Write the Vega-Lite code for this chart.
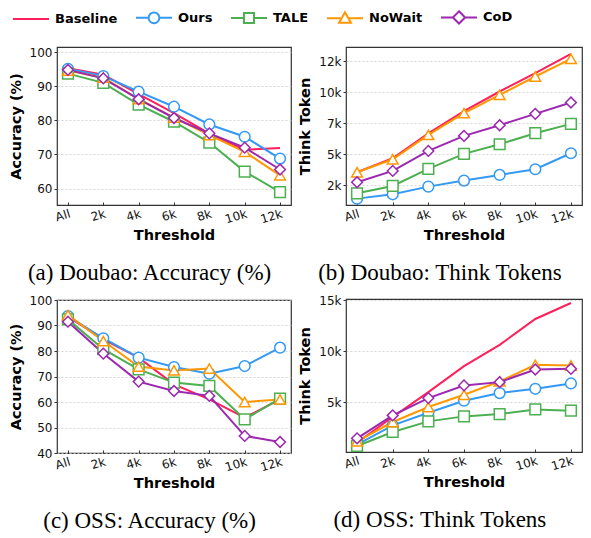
{
  "$schema": "https://vega.github.io/schema/vega-lite/v6.json",
  "padding": {"left": 7, "top": -2, "right": 2, "bottom": 2},
  "datasets": {
    "all": [
      {"p":"a","s":"Baseline","t":"All","v":95.3},{"p":"a","s":"Baseline","t":"2k","v":93.4},{"p":"a","s":"Baseline","t":"4k","v":87.7},{"p":"a","s":"Baseline","t":"6k","v":82.1},{"p":"a","s":"Baseline","t":"8k","v":76.1},{"p":"a","s":"Baseline","t":"10k","v":71.4},{"p":"a","s":"Baseline","t":"12k","v":71.9},
      {"p":"a","s":"Ours","t":"All","v":95.1},{"p":"a","s":"Ours","t":"2k","v":93.0},{"p":"a","s":"Ours","t":"4k","v":88.4},{"p":"a","s":"Ours","t":"6k","v":84.0},{"p":"a","s":"Ours","t":"8k","v":78.8},{"p":"a","s":"Ours","t":"10k","v":75.2},{"p":"a","s":"Ours","t":"12k","v":68.8},
      {"p":"a","s":"TALE","t":"All","v":93.7},{"p":"a","s":"TALE","t":"2k","v":91.0},{"p":"a","s":"TALE","t":"4k","v":84.6},{"p":"a","s":"TALE","t":"6k","v":79.6},{"p":"a","s":"TALE","t":"8k","v":73.5},{"p":"a","s":"TALE","t":"10k","v":65.0},{"p":"a","s":"TALE","t":"12k","v":59.0},
      {"p":"a","s":"NoWait","t":"All","v":94.6},{"p":"a","s":"NoWait","t":"2k","v":92.5},{"p":"a","s":"NoWait","t":"4k","v":86.2},{"p":"a","s":"NoWait","t":"6k","v":80.8},{"p":"a","s":"NoWait","t":"8k","v":75.7},{"p":"a","s":"NoWait","t":"10k","v":70.8},{"p":"a","s":"NoWait","t":"12k","v":63.9},
      {"p":"a","s":"CoD","t":"All","v":94.8},{"p":"a","s":"CoD","t":"2k","v":92.3},{"p":"a","s":"CoD","t":"4k","v":86.2},{"p":"a","s":"CoD","t":"6k","v":80.7},{"p":"a","s":"CoD","t":"8k","v":76.2},{"p":"a","s":"CoD","t":"10k","v":72.0},{"p":"a","s":"CoD","t":"12k","v":65.6},

      {"p":"b","s":"Baseline","t":"All","v":3546},{"p":"b","s":"Baseline","t":"2k","v":4679},{"p":"b","s":"Baseline","t":"4k","v":6701},{"p":"b","s":"Baseline","t":"6k","v":8481},{"p":"b","s":"Baseline","t":"8k","v":10073},{"p":"b","s":"Baseline","t":"10k","v":11556},{"p":"b","s":"Baseline","t":"12k","v":13120},
      {"p":"b","s":"Ours","t":"All","v":1415},{"p":"b","s":"Ours","t":"2k","v":1766},{"p":"b","s":"Ours","t":"4k","v":2386},{"p":"b","s":"Ours","t":"6k","v":2872},{"p":"b","s":"Ours","t":"8k","v":3330},{"p":"b","s":"Ours","t":"10k","v":3789},{"p":"b","s":"Ours","t":"12k","v":5083},
      {"p":"b","s":"TALE","t":"All","v":1847},{"p":"b","s":"TALE","t":"2k","v":2440},{"p":"b","s":"TALE","t":"4k","v":3816},{"p":"b","s":"TALE","t":"6k","v":5030},{"p":"b","s":"TALE","t":"8k","v":5811},{"p":"b","s":"TALE","t":"10k","v":6702},{"p":"b","s":"TALE","t":"12k","v":7457},
      {"p":"b","s":"NoWait","t":"All","v":3546},{"p":"b","s":"NoWait","t":"2k","v":4598},{"p":"b","s":"NoWait","t":"4k","v":6566},{"p":"b","s":"NoWait","t":"6k","v":8320},{"p":"b","s":"NoWait","t":"8k","v":9803},{"p":"b","s":"NoWait","t":"10k","v":11286},{"p":"b","s":"NoWait","t":"12k","v":12716},
      {"p":"b","s":"CoD","t":"All","v":2737},{"p":"b","s":"CoD","t":"2k","v":3654},{"p":"b","s":"CoD","t":"4k","v":5272},{"p":"b","s":"CoD","t":"6k","v":6486},{"p":"b","s":"CoD","t":"8k","v":7349},{"p":"b","s":"CoD","t":"10k","v":8266},{"p":"b","s":"CoD","t":"12k","v":9183},

      {"p":"c","s":"Baseline","t":"All","v":93.5},{"p":"c","s":"Baseline","t":"2k","v":84.6},{"p":"c","s":"Baseline","t":"4k","v":77.4},{"p":"c","s":"Baseline","t":"6k","v":66.9},{"p":"c","s":"Baseline","t":"8k","v":61.0},{"p":"c","s":"Baseline","t":"10k","v":53.9},{"p":"c","s":"Baseline","t":"12k","v":61.0},
      {"p":"c","s":"Ours","t":"All","v":93.7},{"p":"c","s":"Ours","t":"2k","v":85.0},{"p":"c","s":"Ours","t":"4k","v":77.4},{"p":"c","s":"Ours","t":"6k","v":73.7},{"p":"c","s":"Ours","t":"8k","v":71.1},{"p":"c","s":"Ours","t":"10k","v":74.1},{"p":"c","s":"Ours","t":"12k","v":81.3},
      {"p":"c","s":"TALE","t":"All","v":92.4},{"p":"c","s":"TALE","t":"2k","v":80.7},{"p":"c","s":"TALE","t":"4k","v":72.8},{"p":"c","s":"TALE","t":"6k","v":67.6},{"p":"c","s":"TALE","t":"8k","v":66.3},{"p":"c","s":"TALE","t":"10k","v":53.2},{"p":"c","s":"TALE","t":"12k","v":61.3},
      {"p":"c","s":"NoWait","t":"All","v":94.1},{"p":"c","s":"NoWait","t":"2k","v":83.9},{"p":"c","s":"NoWait","t":"4k","v":73.9},{"p":"c","s":"NoWait","t":"6k","v":72.4},{"p":"c","s":"NoWait","t":"8k","v":73.1},{"p":"c","s":"NoWait","t":"10k","v":60.0},{"p":"c","s":"NoWait","t":"12k","v":61.0},
      {"p":"c","s":"CoD","t":"All","v":91.5},{"p":"c","s":"CoD","t":"2k","v":79.0},{"p":"c","s":"CoD","t":"4k","v":68.0},{"p":"c","s":"CoD","t":"6k","v":64.3},{"p":"c","s":"CoD","t":"8k","v":62.4},{"p":"c","s":"CoD","t":"10k","v":46.7},{"p":"c","s":"CoD","t":"12k","v":44.3},

      {"p":"d","s":"Baseline","t":"All","v":1027},{"p":"d","s":"Baseline","t":"2k","v":3535},{"p":"d","s":"Baseline","t":"4k","v":5978},{"p":"d","s":"Baseline","t":"6k","v":8519},{"p":"d","s":"Baseline","t":"8k","v":10603},{"p":"d","s":"Baseline","t":"10k","v":13143},{"p":"d","s":"Baseline","t":"12k","v":14707},
      {"p":"d","s":"Ours","t":"All","v":832},{"p":"d","s":"Ours","t":"2k","v":2721},{"p":"d","s":"Ours","t":"4k","v":3959},{"p":"d","s":"Ours","t":"6k","v":5131},{"p":"d","s":"Ours","t":"8k","v":5880},{"p":"d","s":"Ours","t":"10k","v":6304},{"p":"d","s":"Ours","t":"12k","v":6825},
      {"p":"d","s":"TALE","t":"All","v":701},{"p":"d","s":"TALE","t":"2k","v":2069},{"p":"d","s":"TALE","t":"4k","v":3112},{"p":"d","s":"TALE","t":"6k","v":3600},{"p":"d","s":"TALE","t":"8k","v":3828},{"p":"d","s":"TALE","t":"10k","v":4284},{"p":"d","s":"TALE","t":"12k","v":4154},
      {"p":"d","s":"NoWait","t":"All","v":1158},{"p":"d","s":"NoWait","t":"2k","v":3047},{"p":"d","s":"NoWait","t":"4k","v":4513},{"p":"d","s":"NoWait","t":"6k","v":5718},{"p":"d","s":"NoWait","t":"8k","v":7021},{"p":"d","s":"NoWait","t":"10k","v":8649},{"p":"d","s":"NoWait","t":"12k","v":8584},
      {"p":"d","s":"CoD","t":"All","v":1451},{"p":"d","s":"CoD","t":"2k","v":3698},{"p":"d","s":"CoD","t":"4k","v":5392},{"p":"d","s":"CoD","t":"6k","v":6630},{"p":"d","s":"CoD","t":"8k","v":6955},{"p":"d","s":"CoD","t":"10k","v":8193},{"p":"d","s":"CoD","t":"12k","v":8258}
    ]
  },
  "data": {"name": "all"},
  "columns": 2,
  "align": "none",
  "spacing": {"row": 7, "column": 5},
  "concat": [
    {
      "width": 234, "height": 158,
      "title": {"text": "(a) Doubao: Accuracy (%)", "orient": "bottom", "frame": "bounds", "anchor": "middle", "offset": 20},
      "transform": [{"filter": "datum.p == 'a'"}],
      "encoding": {
        "x": {"field": "t", "type": "nominal", "sort": ["All","2k","4k","6k","8k","10k","12k"], "scale": {"type": "point", "padding": 0.31}, "axis": {"title": "Threshold"}},
        "y": {"field": "v", "type": "quantitative", "scale": {"domain": [55.2, 101.5], "nice": false, "zero": false}, "axis": {"title": "Accuracy (%)", "values": [60,70,80,90,100]}},
        "color": {"field": "s", "type": "nominal", "scale": {"domain": ["Baseline","Ours","TALE","NoWait","CoD"], "range": ["#ff1f5a","#3399f5","#4caf50","#ff9800","#9c27b0"]}, "legend": {"orient": "none", "legendX": -45, "legendY": -49, "direction": "horizontal", "title": null, "symbolSize": 1296, "symbolStrokeWidth": 2, "labelOffset": 5, "columnPadding": 14, "labelFont": "DejaVu Sans", "labelFontWeight": "bold", "labelFontSize": 13, "labelColor": "#000",
          "encode": {"symbols": {"update": {"fill": {"value": "white"}, "shape": {"signal": "datum.value === 'Baseline' ? 'M-1,0H1' : datum.value === 'Ours' ? 'M-1,0H-0.3M0.3,0H1M0.3,0A0.3,0.3,0,1,1,-0.3,0A0.3,0.3,0,1,1,0.3,0Z' : datum.value === 'TALE' ? 'M-1,0H-0.28M0.28,0H1M-0.28,-0.28H0.28V0.28H-0.28Z' : datum.value === 'NoWait' ? 'M-1,0H-0.19M0.19,0H1M0,-0.34L0.33,0.24L-0.33,0.24Z' : 'M-1,0H-0.34M0.34,0H1M0,-0.34L0.34,0L0,0.34L-0.34,0Z'"}}}}}}
      },
      "layer": [
        {"mark": {"type": "line", "strokeWidth": 2}},
        {"transform": [{"filter": "datum.s != 'Baseline'"}], "mark": {"type": "point", "filled": false, "fill": "white", "fillOpacity": 1, "opacity": 1, "size": 115, "strokeWidth": 1.5},
         "encoding": {"shape": {"field": "s", "type": "nominal", "scale": {"domain": ["Ours","TALE","NoWait","CoD"], "range": ["circle","square","triangle-up","diamond"]}, "legend": null}}}
      ]
    },
    {
      "width": 236, "height": 158,
      "title": {"text": "(b) Doubao: Think Tokens", "orient": "bottom", "frame": "bounds", "anchor": "middle", "offset": 20},
      "transform": [{"filter": "datum.p == 'b'"}],
      "encoding": {
        "x": {"field": "t", "type": "nominal", "sort": ["All","2k","4k","6k","8k","10k","12k"], "scale": {"type": "point", "padding": 0.31}, "axis": {"title": "Threshold"}},
        "y": {"field": "v", "type": "quantitative", "scale": {"domain": [900, 13670], "nice": false, "zero": false}, "axis": {"title": "Think Token", "values": [2500,5000,7500,10000,12500], "labelExpr": "floor(datum.value/1000) + 'k'"}},
        "color": {"field": "s", "type": "nominal", "scale": {"domain": ["Baseline","Ours","TALE","NoWait","CoD"], "range": ["#ff1f5a","#3399f5","#4caf50","#ff9800","#9c27b0"]}}
      },
      "layer": [
        {"mark": {"type": "line", "strokeWidth": 2}},
        {"transform": [{"filter": "datum.s != 'Baseline'"}], "mark": {"type": "point", "filled": false, "fill": "white", "fillOpacity": 1, "opacity": 1, "size": 115, "strokeWidth": 1.5},
         "encoding": {"shape": {"field": "s", "type": "nominal", "scale": {"domain": ["Ours","TALE","NoWait","CoD"], "range": ["circle","square","triangle-up","diamond"]}, "legend": null}}}
      ]
    },
    {
      "width": 234, "height": 153,
      "title": {"text": "(c) OSS: Accuracy (%)", "orient": "bottom", "frame": "bounds", "anchor": "middle", "offset": 20},
      "transform": [{"filter": "datum.p == 'c'"}],
      "encoding": {
        "x": {"field": "t", "type": "nominal", "sort": ["All","2k","4k","6k","8k","10k","12k"], "scale": {"type": "point", "padding": 0.31}, "axis": {"title": "Threshold"}},
        "y": {"field": "v", "type": "quantitative", "scale": {"domain": [40, 100], "nice": false, "zero": false}, "axis": {"title": "Accuracy (%)", "values": [40,50,60,70,80,90,100]}},
        "color": {"field": "s", "type": "nominal", "scale": {"domain": ["Baseline","Ours","TALE","NoWait","CoD"], "range": ["#ff1f5a","#3399f5","#4caf50","#ff9800","#9c27b0"]}}
      },
      "layer": [
        {"mark": {"type": "line", "strokeWidth": 2}},
        {"transform": [{"filter": "datum.s != 'Baseline'"}], "mark": {"type": "point", "filled": false, "fill": "white", "fillOpacity": 1, "opacity": 1, "size": 115, "strokeWidth": 1.5},
         "encoding": {"shape": {"field": "s", "type": "nominal", "scale": {"domain": ["Ours","TALE","NoWait","CoD"], "range": ["circle","square","triangle-up","diamond"]}, "legend": null}}}
      ]
    },
    {
      "width": 236, "height": 153,
      "title": {"text": "(d) OSS: Think Tokens", "orient": "bottom", "frame": "bounds", "anchor": "middle", "offset": 20},
      "transform": [{"filter": "datum.p == 'd'"}],
      "encoding": {
        "x": {"field": "t", "type": "nominal", "sort": ["All","2k","4k","6k","8k","10k","12k"], "scale": {"type": "point", "padding": 0.31}, "axis": {"title": "Threshold"}},
        "y": {"field": "v", "type": "quantitative", "scale": {"domain": [110, 15100], "nice": false, "zero": false}, "axis": {"title": "Think Token", "values": [5000,10000,15000], "labelExpr": "floor(datum.value/1000) + 'k'"}},
        "color": {"field": "s", "type": "nominal", "scale": {"domain": ["Baseline","Ours","TALE","NoWait","CoD"], "range": ["#ff1f5a","#3399f5","#4caf50","#ff9800","#9c27b0"]}}
      },
      "layer": [
        {"mark": {"type": "line", "strokeWidth": 2}},
        {"transform": [{"filter": "datum.s != 'Baseline'"}], "mark": {"type": "point", "filled": false, "fill": "white", "fillOpacity": 1, "opacity": 1, "size": 115, "strokeWidth": 1.5},
         "encoding": {"shape": {"field": "s", "type": "nominal", "scale": {"domain": ["Ours","TALE","NoWait","CoD"], "range": ["circle","square","triangle-up","diamond"]}, "legend": null}}}
      ]
    }
  ],
  "config": {
    "view": {"stroke": "#333", "strokeWidth": 1.2},
    "title": {"font": "Liberation Serif", "fontSize": 23, "fontWeight": "normal", "color": "#000"},
    "axis": {"domain": false, "grid": false, "labelFont": "DejaVu Sans", "labelFontSize": 12, "labelColor": "#111", "titleFont": "DejaVu Sans", "titleFontSize": 14.5, "titleFontWeight": "bold", "titleColor": "#000", "tickColor": "#333", "tickSize": 3},
    "axisX": {"labelAngle": -17, "labelPadding": 6, "titlePadding": 3, "tickSize": -3, "labelAlign": "right", "labelBaseline": "top"},
    "axisY": {"grid": true, "gridDash": [2, 2], "gridColor": "#cccccc", "gridWidth": 0.8, "labelPadding": 2, "titlePadding": 6}
  }
}
